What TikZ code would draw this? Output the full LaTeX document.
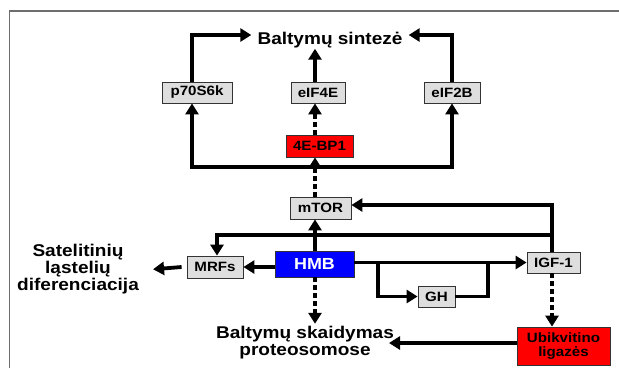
\documentclass[tikz,border=0pt]{standalone}
\usepackage{fontspec}
\setmainfont{Liberation Sans}[FakeStretch=1.12]
\usetikzlibrary{arrows.meta}
\definecolor{boxgray}{RGB}{222,222,222}
\definecolor{framegray}{RGB}{110,110,110}
\begin{document}
\begin{tikzpicture}[x=1pt,y=-1pt,
  lbl/.style={draw=black!80, line width=0.8pt, fill=boxgray, inner sep=0pt,
    minimum height=21pt, font=\fontsize{13.5}{14}\selectfont\bfseries, text=black},
  redbox/.style={lbl, fill=red},
  bigtxt/.style={font=\fontsize{17}{17.2}\selectfont\bfseries, align=center, inner sep=0pt},
  bar/.style={line width=3.8pt},
  link/.style={bar, -{Triangle[length=11pt,width=13pt]}},
  dlink/.style={link, dash pattern=on 4.5pt off 3.5pt},
]
\useasboundingbox (0,0) rectangle (619,368);

% frame
\draw[framegray, line width=1.5pt] (9.5,368) -- (9.5,11) -- (619,11);

% boxes
\node[lbl, minimum width=70pt] (p70) at (197,92.5) {p70S6k};
\node[lbl, minimum width=54pt] (eif4e) at (318,92.5) {eIF4E};
\node[lbl, minimum width=56pt] (eif2b) at (452,92.5) {eIF2B};
\node[redbox, minimum width=67pt, minimum height=22pt] (bp) at (319.5,146) {4E-BP1};
\node[lbl, minimum width=61pt, minimum height=22pt] (mtor) at (320.5,208) {mTOR};
\node[lbl, minimum width=56pt, minimum height=22pt] (mrfs) at (215,267) {MRFs};
\node[lbl, fill=blue, text=white, minimum width=79pt, minimum height=26pt,
  font=\fontsize{16}{16}\selectfont\bfseries] (hmb) at (314.5,264) {HMB};
\node[lbl, minimum width=37pt] (gh) at (436.5,296.5) {GH};
\node[lbl, minimum width=53pt] (igf) at (553.5,262.5) {IGF-1};
\node[redbox, minimum width=93pt, minimum height=38pt, align=center,
  font=\fontsize{13.5}{13.5}\selectfont\bfseries] (ubik) at (563.5,346) {Ubikvitino\\ligazės};

% free texts
\node[bigtxt, anchor=base, inner xsep=6pt, inner ysep=1pt] (synth) at (330,44) {Baltymų sintezė};
\node[bigtxt, inner xsep=14pt] (sat) at (78,269.3) {Satelitinių\\ląstelių\\diferenciacija};
\node[bigtxt, inner ysep=2pt] (skaid) at (305,342.5) {Baltymų skaidymas\\proteosomose};

% routing points
\coordinate (cx) at (315,0);
\coordinate (tl) at (192,35);
\coordinate (tr) at (452,35);
\coordinate (bl) at (192,167);
\coordinate (br) at (452,167);
\coordinate (rt) at (552,205);
\coordinate (rm) at (552,235);
\coordinate (mx) at (217,0);
\coordinate (gs) at (378,263);
\coordinate (ge) at (488,296.5);
\coordinate (sk) at (389,343);

% protein synthesis branch
\draw[link] (p70.north -| tl) -- (tl) -- (tl -| synth.west);
\draw[link] (eif2b.north -| tr) -- (tr) -- (tr -| synth.east);
\draw[link] (eif4e.north -| cx) -- (synth.south -| cx);
\draw[bar, {Triangle[length=11pt,width=13pt]}-{Triangle[length=11pt,width=13pt]}]
  (p70.south -| bl) -- (bl) -- (br) -- (eif2b.south -| br);
\draw[dlink] (mtor.north -| cx) -- (bp.south -| cx);
\draw[dlink] (bp.north -| cx) -- (eif4e.south -| cx);

% HMB signalling
\draw[link] (hmb.north -| cx) -- (mtor.south -| cx);
\draw[link] (igf.north -| rt) -- (rt) -- (rt -| mtor.east);
\draw[link] (rm) -- (rm -| mx) -- (mrfs.north -| mx);
\draw[link] (hmb.west |- mrfs) -- (mrfs.east);
\draw[link] ([xshift=-5pt]mrfs.west) -- (sat.east);
\draw[link] (hmb.east |- igf) -- (igf.west);
\draw[link] (gs) |- (gh.west);
\draw[bar] (gh.east) -- (ge) -- (ge |- igf);

% protein breakdown
\draw[dlink] (hmb.south -| cx) -- (skaid.north -| cx);
\draw[dlink] (igf.south -| rt) -- (ubik.north -| rt);
\draw[link] (ubik.west |- sk) -- (sk);
\end{tikzpicture}
\end{document}
